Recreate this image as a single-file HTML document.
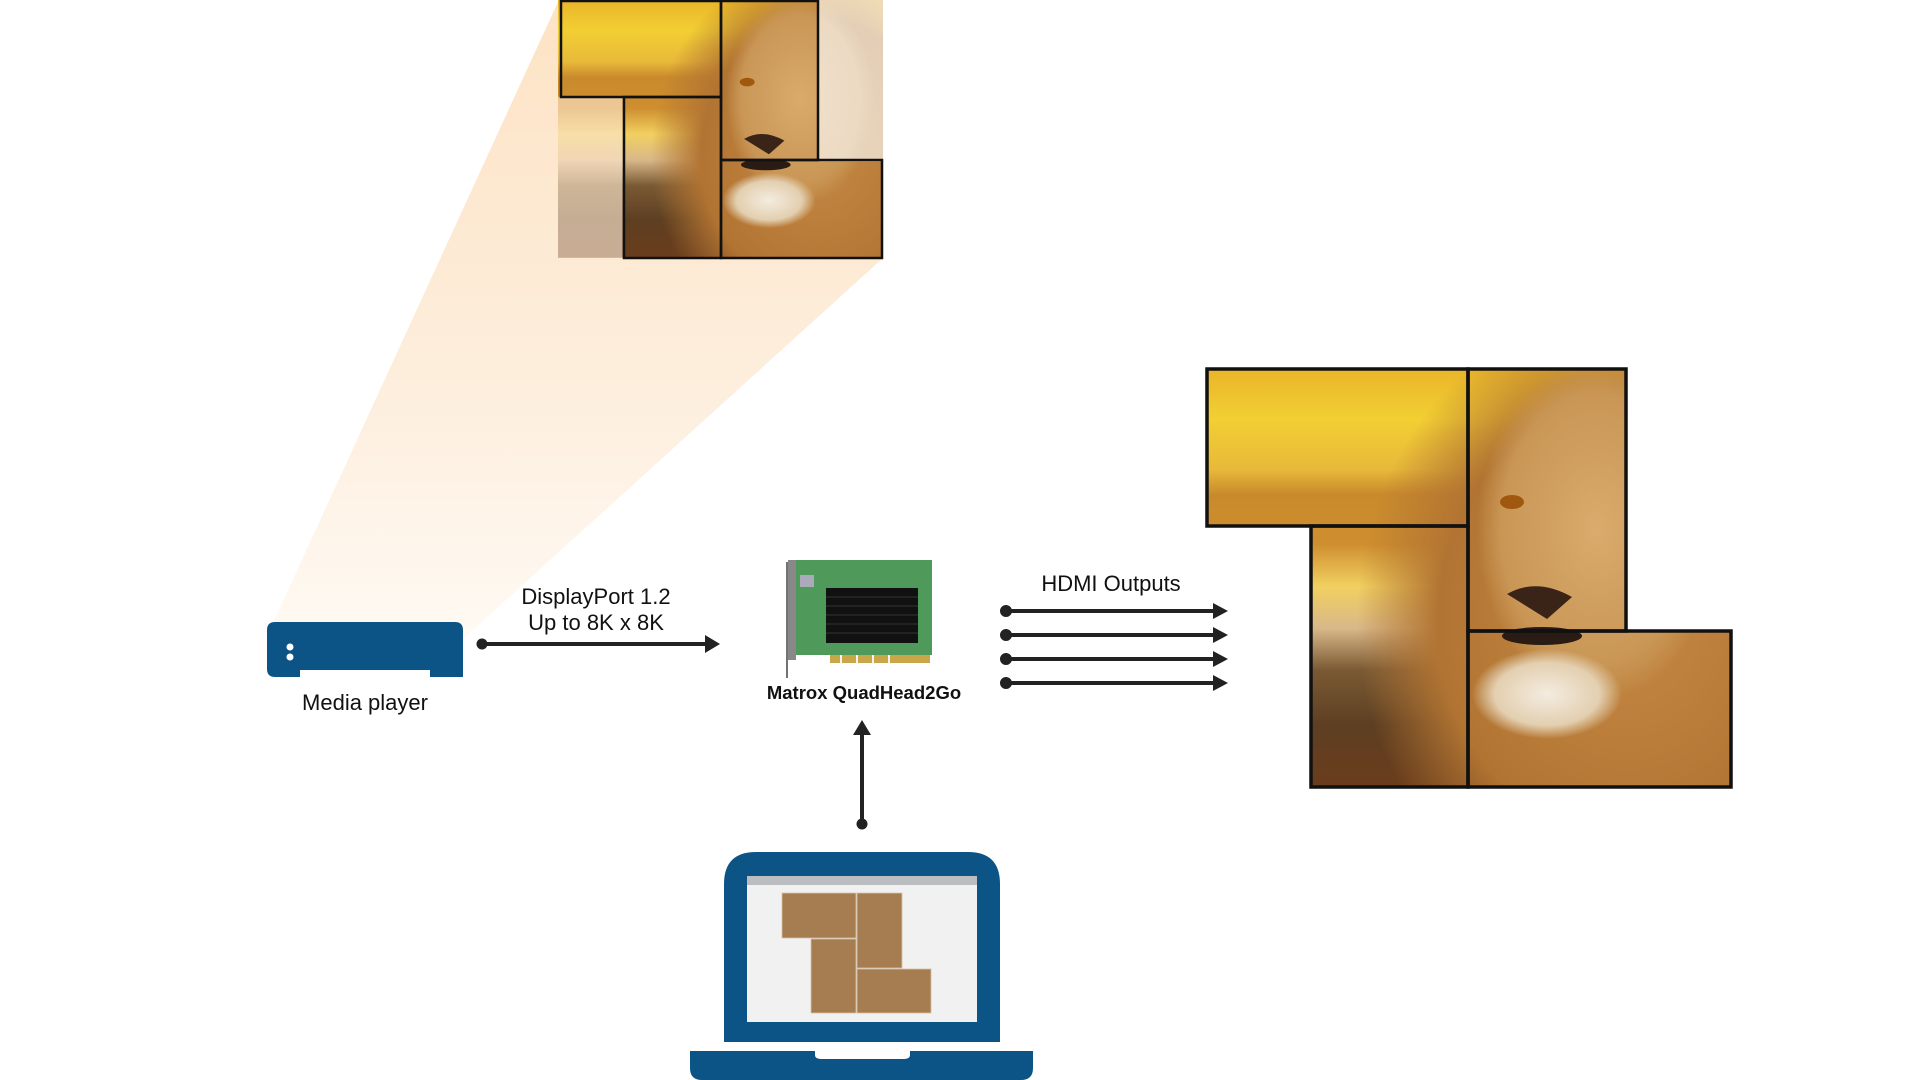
<!DOCTYPE html>
<html><head><meta charset="utf-8"><style>
html,body{margin:0;padding:0;background:#fff;width:1920px;height:1080px;overflow:hidden}
svg{display:block}
text{font-family:"Liberation Sans",sans-serif;fill:#111}
</style></head><body>
<svg width="1920" height="1080" viewBox="0 0 1920 1080" xmlns="http://www.w3.org/2000/svg">
<defs>
<linearGradient id="beam" x1="0" y1="0" x2="0" y2="1">
<stop offset="0" stop-color="#fde3c4"/><stop offset="0.6" stop-color="#fdeedd"/><stop offset="1" stop-color="#fffaf4"/>
</linearGradient>
<linearGradient id="sky" x1="0" y1="0" x2="0" y2="1">
<stop offset="0" stop-color="#e9b52a"/><stop offset="0.12" stop-color="#f2cf33"/><stop offset="0.24" stop-color="#e8b93a"/>
<stop offset="0.3" stop-color="#c98a2c"/><stop offset="0.42" stop-color="#cf8f30"/><stop offset="0.52" stop-color="#f1d060"/>
<stop offset="0.62" stop-color="#d9b889"/><stop offset="0.72" stop-color="#7a5a34"/><stop offset="0.85" stop-color="#5e3f22"/><stop offset="1" stop-color="#6a3d1c"/>
</linearGradient>
<radialGradient id="mane" cx="0.5" cy="0.5" r="0.5">
<stop offset="0" stop-color="#c58a45"/><stop offset="0.7" stop-color="#b27432"/><stop offset="1" stop-color="#b27432" stop-opacity="0"/>
</radialGradient>
<radialGradient id="face" cx="0.5" cy="0.5" r="0.5">
<stop offset="0" stop-color="#d9ab6c"/><stop offset="0.8" stop-color="#c99655"/><stop offset="1" stop-color="#c99655" stop-opacity="0"/>
</radialGradient>
<radialGradient id="chin" cx="0.5" cy="0.5" r="0.5">
<stop offset="0" stop-color="#f4ece0"/><stop offset="0.7" stop-color="#e3cfb0"/><stop offset="1" stop-color="#e3cfb0" stop-opacity="0"/>
</radialGradient>
<clipPath id="full"><rect x="0" y="0" width="524" height="418"/></clipPath>
<g id="lion">
<g clip-path="url(#full)">
<rect x="0" y="0" width="524" height="418" fill="url(#sky)"/>
<ellipse cx="420" cy="250" rx="270" ry="310" fill="url(#mane)"/>
<ellipse cx="390" cy="160" rx="120" ry="170" fill="url(#face)"/>
<ellipse cx="340" cy="325" rx="75" ry="45" fill="url(#chin)"/>
<path d="M300 225 Q330 208 365 228 L340 250 Z" fill="#3a2418"/>
<ellipse cx="335" cy="267" rx="40" ry="9" fill="#2a1c14"/>
<ellipse cx="305" cy="133" rx="12" ry="7" fill="#a0580f"/>
</g>
</g>
<clipPath id="tiles"><rect x="0" y="0" width="261" height="157"/><rect x="261" y="0" width="158" height="262"/><rect x="104" y="157" width="157" height="261"/><rect x="261" y="262" width="263" height="156"/></clipPath>
</defs>

<polygon points="272,625 558,2 883,258 462,640" fill="url(#beam)"/>

<g transform="translate(558,0) scale(0.6203,0.617)">
<use href="#lion" opacity="0.35"/>
<g clip-path="url(#tiles)"><use href="#lion"/></g>
</g>
<g fill="none" stroke="#111" stroke-width="2.5">
<rect x="561" y="1" width="160" height="96"/><rect x="721" y="1" width="97" height="159"/>
<rect x="624" y="97" width="97" height="161"/><rect x="721" y="160" width="161" height="98"/>
</g>

<g transform="translate(1207,369)">
<g clip-path="url(#tiles)"><use href="#lion"/></g>
<g fill="none" stroke="#111" stroke-width="3.5">
<rect x="0" y="0" width="261" height="157"/><rect x="261" y="0" width="158" height="262"/>
<rect x="104" y="157" width="157" height="261"/><rect x="261" y="262" width="263" height="156"/>
</g>
</g>

<path d="M275 622 H455 Q463 622 463 630 V677 H430 V670 H300 V677 H275 Q267 677 267 669 V630 Q267 622 275 622 Z" fill="#0d5486"/>
<circle cx="290" cy="647" r="3.5" fill="#fff"/><circle cx="290" cy="657" r="3.5" fill="#fff"/>
<text x="365" y="710" font-size="22" text-anchor="middle">Media player</text>

<circle cx="482" cy="644" r="5.5" fill="#222"/>
<line x1="482" y1="644" x2="708" y2="644" stroke="#222" stroke-width="4"/>
<polygon points="705,635 720,644 705,653" fill="#222"/>
<text x="596" y="604" font-size="22" text-anchor="middle">DisplayPort 1.2</text>
<text x="596" y="630" font-size="22" text-anchor="middle">Up to 8K x 8K</text>

<line x1="787" y1="562" x2="787" y2="678" stroke="#444" stroke-width="1.5"/>
<rect x="790" y="560" width="142" height="95" fill="#4f9a5a"/>
<rect x="788" y="560" width="8" height="100" fill="#888"/>
<rect x="800" y="575" width="14" height="12" fill="#aab"/>
<rect x="826" y="588" width="92" height="55" fill="#111"/>
<g stroke="#333" stroke-width="1"><line x1="826" y1="597" x2="918" y2="597"/><line x1="826" y1="606" x2="918" y2="606"/><line x1="826" y1="615" x2="918" y2="615"/><line x1="826" y1="624" x2="918" y2="624"/><line x1="826" y1="633" x2="918" y2="633"/></g>
<rect x="830" y="655" width="100" height="8" fill="#c9a64a"/>
<g fill="#fff" opacity="0.9"><rect x="840" y="655" width="2" height="8"/><rect x="856" y="655" width="2" height="8"/><rect x="872" y="655" width="2" height="8"/><rect x="888" y="655" width="2" height="8"/></g>
<text x="864" y="699" font-size="18.5" font-weight="bold" text-anchor="middle">Matrox QuadHead2Go</text>

<circle cx="862" cy="824" r="5.5" fill="#222"/>
<line x1="862" y1="824" x2="862" y2="732" stroke="#222" stroke-width="4"/>
<polygon points="853,735 862,720 871,735" fill="#222"/>

<text x="1111" y="591" font-size="22" text-anchor="middle">HDMI Outputs</text>
<g fill="#222" stroke="#222">
<circle cx="1006" cy="611" r="5.5"/><line x1="1006" y1="611" x2="1215" y2="611" stroke-width="4"/><polygon points="1213,603 1228,611 1213,619" stroke="none"/>
<circle cx="1006" cy="635" r="5.5"/><line x1="1006" y1="635" x2="1215" y2="635" stroke-width="4"/><polygon points="1213,627 1228,635 1213,643" stroke="none"/>
<circle cx="1006" cy="659" r="5.5"/><line x1="1006" y1="659" x2="1215" y2="659" stroke-width="4"/><polygon points="1213,651 1228,659 1213,667" stroke="none"/>
<circle cx="1006" cy="683" r="5.5"/><line x1="1006" y1="683" x2="1215" y2="683" stroke-width="4"/><polygon points="1213,675 1228,683 1213,691" stroke="none"/>
</g>

<path d="M756 852 H968 Q1000 852 1000 884 V1042 H724 V884 Q724 852 756 852 Z" fill="#0d5486"/>
<rect x="747" y="876" width="230" height="146" fill="#f1f1f2"/>
<rect x="747" y="876" width="230" height="9" fill="#bcbdc0"/>
<path d="M690 1051 H815 V1055 Q815 1059 822 1059 H903 Q910 1059 910 1055 V1051 H1033 V1068 Q1033 1080 1021 1080 H702 Q690 1080 690 1068 Z" fill="#0d5486"/>
<g fill="#a67c51" stroke="#d8c2a6" stroke-width="0.8">
<rect x="782" y="893" width="74" height="45"/><rect x="857" y="893" width="45" height="75"/>
<rect x="811" y="939" width="45" height="74"/><rect x="857" y="969" width="74" height="44"/>
</g>
</svg>
</body></html>
